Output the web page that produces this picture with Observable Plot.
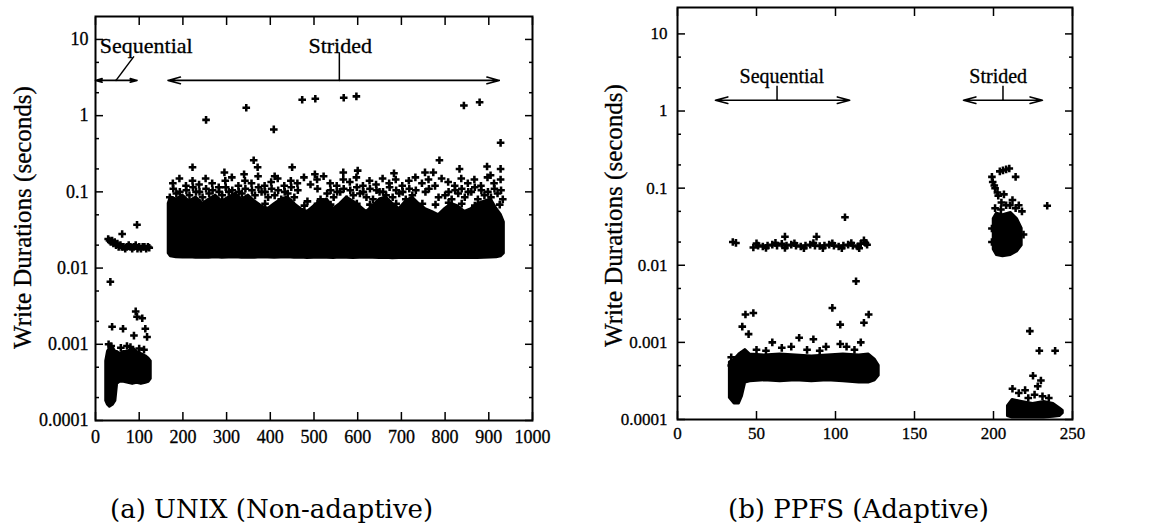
<!DOCTYPE html>
<html>
<head>
<meta charset="utf-8">
<script src="https://cdn.jsdelivr.net/npm/d3@7"></script>
<script src="https://cdn.jsdelivr.net/npm/@observablehq/plot@0.6"></script>
<style>
html,body{margin:0;padding:0;background:#fff;}
#wrap{position:relative;width:1150px;height:526px;overflow:hidden;background:#fff;}
.panel{position:absolute;top:0;}
.panel svg text{stroke:#000;stroke-width:0.3px;}
.cap{position:absolute;top:494px;font-family:"DejaVu Serif",serif;font-size:26px;line-height:30px;color:#000;white-space:nowrap;}
</style>
</head>
<body>
<div id="wrap">
  <div id="left" class="panel" style="left:0px"></div>
  <div id="right" class="panel" style="left:582px"></div>
  <div class="cap" id="capA" style="left:110px"></div>
  <div class="cap" id="capB" style="left:728px"></div>
</div>
<script>
// ---------- shared axis data ----------
const yTicks = [1e-4, 1e-3, 1e-2, 1e-1, 1, 10];
const yTickLabels = ["0.0001", "0.001", "0.01", "0.1", "1", "10"];
const yMinorTicks = [2e-4, 5e-4, 2e-3, 5e-3, 2e-2, 5e-2, 0.2, 0.5, 2, 5];
const leftXTicks = [0, 100, 200, 300, 400, 500, 600, 700, 800, 900, 1000];
const rightXTicks = [0, 50, 100, 150, 200, 250];
const yAxisLabel = "Write Durations (seconds)";
const captions = ["(a) UNIX (Non-adaptive)", "(b) PPFS (Adaptive)"];

// ---------- (a) UNIX: dense regions [x, low, high] ----------
const leftSeqCore = [
  [24,0.00018,0.0006],[28,0.00016,0.0008],[33,0.00015,0.0009],[40,0.00016,0.0009],
  [46,0.00018,0.0008],[50,0.0003,0.0008],[56,0.00032,0.00075],[65,0.00032,0.0008],
  [75,0.00031,0.0008],[85,0.0003,0.0009],[95,0.00031,0.0008],[105,0.0003,0.00075],
  [115,0.00031,0.0007],[122,0.00032,0.00065],[127,0.00035,0.0006]
];
const leftStridedCore = [
  [167,0.0155,0.07],[172,0.0142,0.085],[185,0.0138,0.08],[200,0.0137,0.09],[215,0.0138,0.075],
  [230,0.0136,0.085],[245,0.0137,0.07],[260,0.0136,0.08],[275,0.0138,0.09],[290,0.0136,0.075],
  [305,0.0137,0.085],[320,0.0138,0.095],[335,0.0136,0.08],[350,0.0137,0.09],[365,0.0136,0.075],
  [380,0.0138,0.065],[395,0.0137,0.06],[410,0.0136,0.07],[425,0.0137,0.08],[440,0.0138,0.085],
  [455,0.0136,0.07],[470,0.0137,0.06],[485,0.0135,0.055],[500,0.0136,0.065],[515,0.0137,0.075],
  [530,0.0136,0.08],[545,0.0135,0.06],[560,0.0137,0.07],[575,0.0136,0.085],[590,0.0135,0.075],
  [605,0.0136,0.065],[620,0.0137,0.055],[635,0.0136,0.065],[650,0.0135,0.08],[665,0.0136,0.085],
  [680,0.0134,0.07],[695,0.0135,0.06],[710,0.0136,0.075],[725,0.0135,0.085],[740,0.0136,0.07],
  [755,0.0135,0.06],[770,0.0136,0.055],[785,0.0135,0.05],[800,0.0136,0.06],[815,0.0135,0.07],
  [830,0.0136,0.065],[845,0.0135,0.055],[860,0.0136,0.06],[875,0.0135,0.07],[890,0.0136,0.075],
  [905,0.0137,0.08],[918,0.0138,0.06],[928,0.0142,0.05],[935,0.0155,0.04]
];
// ---------- (a) UNIX: individual writes [x, seconds] ----------
const leftSeqPoints = [
  [29,0.024],[32,0.023],[35,0.022],[38,0.023],[41,0.021],[44,0.022],[47,0.02],[50,0.021],
  [53,0.019],[57,0.02],[60,0.019],[64,0.019],[68,0.018],[72,0.019],[76,0.02],[80,0.019],
  [84,0.018],[88,0.019],[92,0.02],[96,0.018],[100,0.019],[104,0.018],[108,0.019],[112,0.019],
  [116,0.018],[120,0.019],[123,0.0185],
  [61,0.028],[95,0.037],[34,0.0066],[92,0.0027],[95,0.0023],[107,0.0022],[38,0.0017],
  [63,0.0016],[114,0.0016],[88,0.0013],[118,0.00125],
  [30,0.001],[36,0.00095],[58,0.0009],[72,0.00095],[80,0.00092],[111,0.00085],[100,0.00088]
];
const leftStridedPoints = [
  [178,0.07],[208,0.068],[238,0.072],[268,0.07],[298,0.066],[328,0.072],[358,0.068],[388,0.07],
  [418,0.068],[448,0.072],[478,0.066],[508,0.07],[538,0.068],[568,0.072],[598,0.07],[628,0.068],
  [658,0.072],[688,0.07],[718,0.066],[748,0.07],[778,0.068],[808,0.072],[838,0.07],[868,0.066],
  [898,0.072],[925,0.068],
  [170,0.085],[185,0.095],[200,0.08],[215,0.09],[230,0.1],[245,0.085],[260,0.095],[275,0.08],
  [290,0.09],[305,0.1],[320,0.085],[335,0.095],[350,0.08],[365,0.09],[380,0.1],[395,0.085],
  [410,0.09],[425,0.08],[440,0.095],[455,0.085],[485,0.075],[515,0.08],[530,0.095],[545,0.085],
  [560,0.1],[575,0.08],[590,0.09],[605,0.095],[620,0.085],[635,0.08],[650,0.1],[665,0.09],
  [680,0.085],[695,0.095],[710,0.08],[725,0.09],[755,0.1],[785,0.085],[800,0.09],[815,0.08],
  [830,0.095],[845,0.085],[860,0.1],[875,0.08],[890,0.09],[905,0.085],[920,0.095],[932,0.08],
  [178,0.11],[193,0.1],[208,0.105],[223,0.115],[238,0.1],[253,0.11],[268,0.105],[283,0.1],
  [298,0.115],[313,0.105],[328,0.1],[343,0.11],[358,0.105],[373,0.115],[388,0.1],[403,0.11],
  [418,0.105],[433,0.1],[448,0.115],[463,0.105],[508,0.11],[538,0.105],[553,0.1],[568,0.11],
  [583,0.105],[598,0.115],[613,0.1],[628,0.11],[643,0.105],[658,0.1],[673,0.115],[688,0.105],
  [703,0.1],[718,0.11],[733,0.105],[763,0.11],[808,0.1],[823,0.105],[838,0.11],[853,0.1],
  [868,0.115],[883,0.105],[898,0.1],[913,0.11],[928,0.105],
  [177,0.13],[192,0.15],[207,0.12],[222,0.14],[237,0.125],[252,0.15],[267,0.13],[282,0.115],
  [297,0.14],[312,0.155],[327,0.12],[342,0.14],[357,0.13],[372,0.16],[387,0.12],[402,0.135],
  [417,0.15],[432,0.12],[447,0.14],[462,0.13],[477,0.155],[492,0.125],[507,0.145],[522,0.16],
  [537,0.13],[552,0.12],[567,0.145],[582,0.135],[597,0.155],[612,0.12],[627,0.14],[642,0.125],
  [657,0.15],[672,0.13],[687,0.145],[702,0.12],[717,0.14],[732,0.155],[747,0.13],[762,0.145],
  [777,0.12],[792,0.15],[807,0.135],[822,0.12],[837,0.15],[852,0.13],[867,0.145],[882,0.12],
  [897,0.155],[912,0.13],[927,0.145],
  [222,0.21],[295,0.18],[362,0.26],[371,0.21],[450,0.21],[502,0.17],[567,0.18],[600,0.19],
  [683,0.175],[754,0.18],[773,0.18],[787,0.26],[833,0.2],[896,0.215],[904,0.165],[927,0.2],
  [410,0.16],[340,0.17]
];
const leftOutliers = [
  [253,0.88],[345,1.27],[408,0.66],[473,1.62],[503,1.67],[568,1.72],[597,1.79],
  [843,1.36],[879,1.5],[927,0.44]
];
// ---------- (a) annotations ----------
const leftArrows = [[47,2.9,0,2.9],[47,2.9,95,2.9],[558,2.9,166,2.9],[558,2.9,924,2.9]];
const leftLeaders = [[47,2.9,88,6.0],[558,2.9,558,6.7]];
const leftNotes = [[116,8.1,"Sequential"],[560,8.1,"Strided"]];

// ---------- (b) PPFS: dense regions [x, low, high] ----------
const rightSeqCore = [
  [33,0.00019,0.00055],[36,0.00016,0.0006],[39,0.00016,0.0007],[41,0.0002,0.00075],
  [43,0.0003,0.0008],[46,0.00031,0.0007],[55,0.00032,0.00068],[65,0.00031,0.0007],
  [75,0.00032,0.00068],[85,0.00031,0.00066],[95,0.00032,0.00068],[105,0.00031,0.0007],
  [115,0.0003,0.00068],[121,0.0003,0.0007],[125,0.00032,0.0006],[127.5,0.00037,0.0005]
];
const rightStridedCore = [
  [200,0.016,0.04],[202,0.0135,0.047],[206,0.013,0.045],[211,0.0135,0.048],
  [215,0.015,0.04],[218,0.018,0.03]
];
const rightLowCore = [
  [209,0.00011,0.00015],[212,0.000105,0.00018],[218,0.000105,0.00017],[225,0.000105,0.00016],
  [232,0.000105,0.00017],[238,0.000108,0.00016],[242,0.00011,0.00014],[244,0.00012,0.00013]
];
// ---------- (b) PPFS: individual writes [x, seconds] ----------
const rightPoints = [
  [35,0.02],[37,0.0195],[48,0.017],[51,0.018],[54,0.0175],[57,0.018],[60,0.0185],[63,0.018],
  [66,0.019],[69,0.018],[72,0.0185],[75,0.018],[78,0.0175],[81,0.018],[84,0.0185],[87,0.018],
  [90,0.0178],[93,0.018],[96,0.0185],[99,0.018],[102,0.0175],[105,0.018],[108,0.0185],[111,0.018],
  [114,0.0175],[116,0.019],[118,0.021],[119,0.0195],[120,0.0185],
  [50,0.0192],[56,0.0168],[62,0.0195],[68,0.0168],[74,0.0193],[80,0.0166],[86,0.0194],[92,0.0167],
  [98,0.0193],[104,0.0166],[110,0.0194],[115,0.0166],
  [68,0.0235],[88,0.0235],[106,0.042],[113,0.0062],[98,0.0028],[43,0.0023],[48,0.0024],
  [41,0.0016],[45,0.00128],[103,0.0017],[118,0.0018],[121,0.0023],[60,0.001],[72,0.00088],
  [77,0.00115],[86,0.0011],[94,0.00088],[103,0.00095],[107,0.00088],[116,0.001],[34,0.00064],
  [34,0.0005],[50,0.0008],[56,0.00078],[66,0.00085],[82,0.0008],[90,0.00078],[112,0.0008],
  [199,0.14],[199.5,0.12],[204,0.165],[206,0.17],[208,0.175],[210,0.18],[214,0.14],
  [200.5,0.108],[201,0.1],[202.5,0.088],[203,0.08],[206.6,0.083],[205,0.065],[204.7,0.053],
  [210.4,0.06],[212,0.07],[214,0.055],[218,0.05],[216,0.06],[208,0.06],[201,0.055],
  [219,0.025],[199,0.03],[199,0.02],[234,0.059],
  [223,0.0014],[229,0.00078],[239,0.00078],[225,0.00037],[230,0.00032],[228,0.00027],
  [212,0.00025],[216,0.00022],[220,0.00024],[226,0.00021],[231,0.0002],[235,0.00019],[222,0.00019]
];
// ---------- (b) annotations ----------
const rightArrows = [[63,1.38,24,1.38],[63,1.38,109,1.38],[206,1.38,181,1.38],[206,1.38,231,1.38]];
const rightLeaders = [[63,1.38,63,2.12],[206,1.38,206,2.12]];
const rightNotes = [[66,2.8,"Sequential"],[203,2.8,"Strided"]];

function panel(cfg) {
  const fmt = d => { const i = yTicks.indexOf(d); return i < 0 ? "" : yTickLabels[i]; };
  const blank = () => "";
  const marks = [
    ...cfg.cores.map(c => Plot.areaY(c, {x: d => d[0], y1: d => d[1], y2: d => d[2], fill: "black", stroke: "black", strokeWidth: 2.5, strokeLinejoin: "round", curve: "linear"})),
    ...cfg.points.map(p => Plot.dot(p, {x: d => d[0], y: d => d[1], symbol: "cross", r: 3.2, fill: "black"})),
    Plot.axisY({anchor: "left", ticks: yTicks, tickFormat: fmt, tickSize: -8, tickPadding: cfg.yPad, strokeWidth: 1.5, label: null}),
    Plot.axisY({anchor: "left", ticks: yMinorTicks, tickFormat: blank, tickSize: -4, strokeWidth: 1.5, label: null}),
    Plot.axisY({anchor: "right", ticks: yTicks, tickFormat: blank, tickSize: -8, strokeWidth: 1.5, label: null}),
    Plot.axisY({anchor: "right", ticks: yMinorTicks, tickFormat: blank, tickSize: -4, strokeWidth: 1.5, label: null}),
    Plot.axisX({anchor: "bottom", ticks: cfg.xTicks, tickFormat: d => String(d), tickSize: -8, tickPadding: cfg.xPad, strokeWidth: 1.5, label: null}),
    Plot.axisX({anchor: "top", ticks: cfg.xTicks, tickFormat: blank, tickSize: -8, strokeWidth: 1.5, label: null}),
    Plot.frame({stroke: "black", strokeWidth: 2}),
    Plot.arrow(cfg.arrows, {x1: d => d[0], y1: d => d[1], x2: d => d[2], y2: d => d[3], stroke: "black", strokeWidth: 1.6, headAngle: 30, headLength: 12}),
    Plot.link(cfg.leaders, {x1: d => d[0], y1: d => d[1], x2: d => d[2], y2: d => d[3], stroke: "black", strokeWidth: 1.5}),
    Plot.text(cfg.notes, {x: d => d[0], y: d => d[1], text: d => d[2], fontSize: cfg.noteSize, textAnchor: "middle", fill: "black"}),
    Plot.text([yAxisLabel], {text: d => d, frameAnchor: "left", rotate: -90, dx: cfg.labelDx, dy: cfg.labelDy, fontSize: 25, textAnchor: "middle", fill: "black"})
  ];
  return Plot.plot({
    width: cfg.width, height: cfg.height,
    marginLeft: cfg.ml, marginRight: cfg.mr, marginTop: cfg.mt, marginBottom: cfg.mb,
    x: {domain: cfg.xDomain},
    y: {type: "log", domain: cfg.yDomain},
    style: {fontFamily: "'Liberation Serif', 'Times New Roman', serif", fontSize: cfg.fontSize, color: "black", background: "white", overflow: "visible"},
    marks
  });
}

document.getElementById("left").appendChild(panel({
  width: 545, height: 455, ml: 95, mr: 13, mt: 16, mb: 35,
  xDomain: [0, 1000], yDomain: [1e-4, 20], xTicks: leftXTicks,
  cores: [leftSeqCore, leftStridedCore],
  points: [leftSeqPoints, leftStridedPoints, leftOutliers],
  arrows: leftArrows, leaders: leftLeaders, notes: leftNotes, noteSize: 22,
  yPad: 15, xPad: 18, fontSize: "18px", labelDx: -73, labelDy: -1
}));
document.getElementById("right").appendChild(panel({
  width: 505, height: 455, ml: 95, mr: 15, mt: 7, mb: 36,
  xDomain: [0, 250], yDomain: [1e-4, 22], xTicks: rightXTicks,
  cores: [rightSeqCore, rightStridedCore, rightLowCore],
  points: [rightPoints],
  arrows: rightArrows, leaders: rightLeaders, notes: rightNotes, noteSize: 20,
  yPad: 18, xPad: 15, fontSize: "17px", labelDx: -64, labelDy: 2
}));
document.getElementById("capA").textContent = captions[0];
document.getElementById("capB").textContent = captions[1];
</script>
</body>
</html>
